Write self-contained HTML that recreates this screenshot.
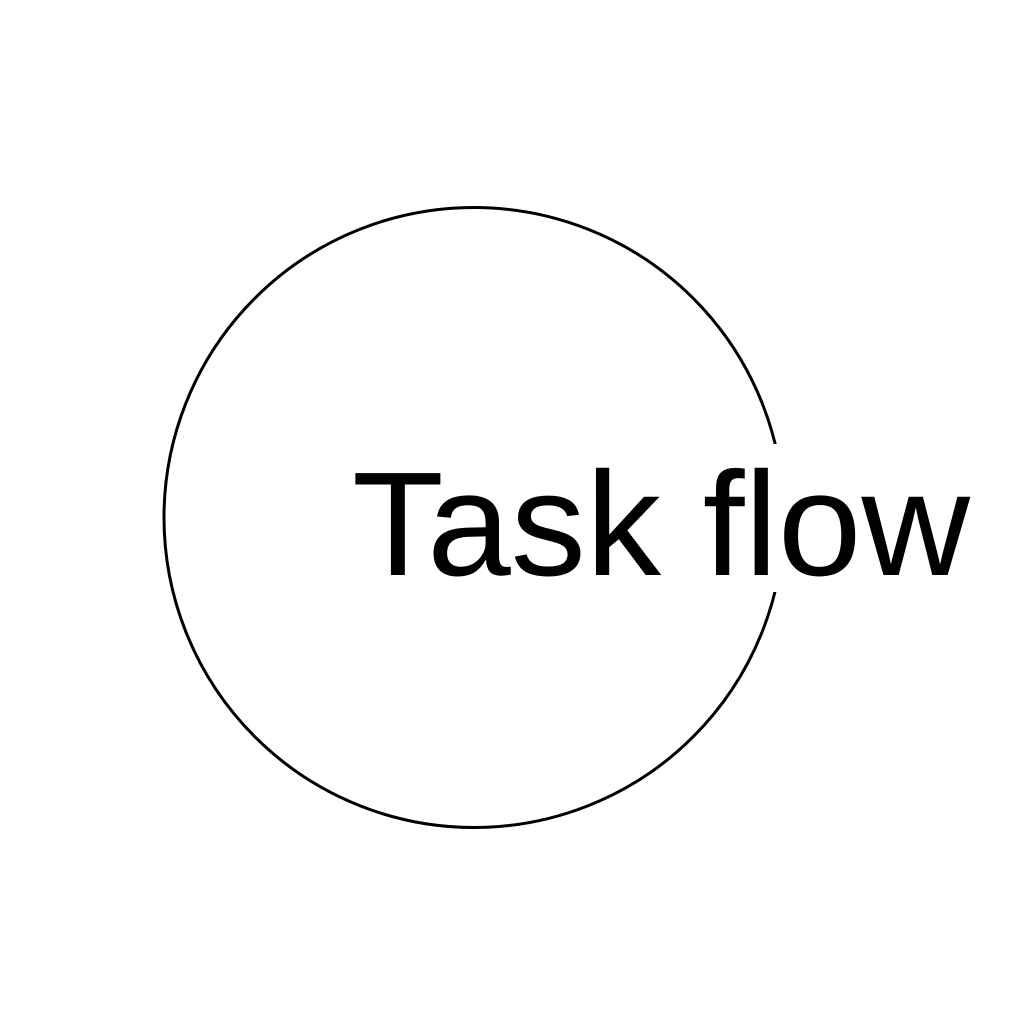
<!DOCTYPE html>
<html><head><style>html,body{margin:0;padding:0;background:#fff;}</style></head>
<body>
<svg width="1026" height="1026" viewBox="0 0 1026 1026" xmlns="http://www.w3.org/2000/svg">
<rect width="1026" height="1026" fill="#fff"/>
<circle cx="474" cy="517.5" r="310" fill="none" stroke="#000" stroke-width="3"/>
<rect x="755" y="444" width="45" height="148" fill="#fff"/>
<text x="352" y="575" font-family="Liberation Sans, sans-serif" font-size="148" textLength="618" lengthAdjust="spacingAndGlyphs" fill="#000">Task flow</text>
</svg>
</body></html>
